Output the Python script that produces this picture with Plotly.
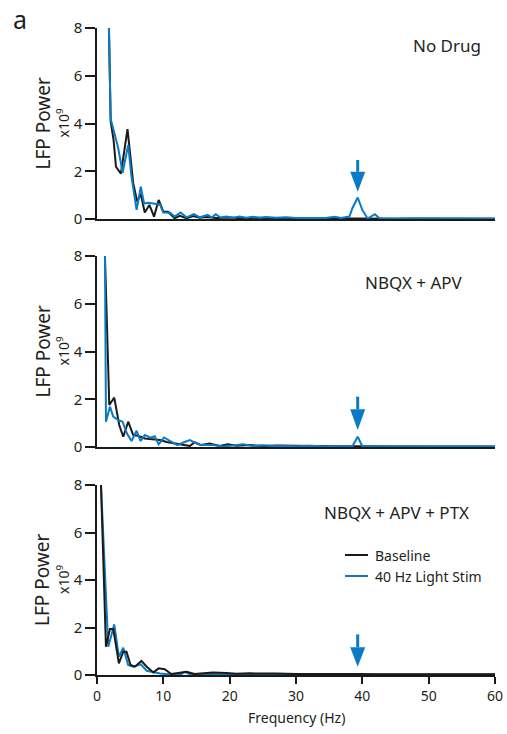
import plotly.graph_objects as go

# ---------------- data ----------------
p1_base_f = [1.8, 2.06, 2.5, 2.86, 3.6, 4.6, 5.46, 6.06, 6.6, 7.2, 7.9, 8.6, 9.3, 10.0, 10.7, 11.7, 12.5, 13.5, 14.5, 15.5, 16.5, 18, 20, 22, 24, 26, 28, 30, 33, 36, 39, 42, 45, 48, 51, 54, 57, 60]
p1_base_v = [8.0, 4.1, 3.3, 2.19, 1.9, 3.76, 1.5, 0.73, 1.05, 0.27, 0.59, 0.1, 0.8, 0.31, 0.3, 0.03, 0.13, 0.03, 0.12, 0.05, 0.08, 0.04, 0.06, 0.03, 0.05, 0.03, 0.04, 0.02, 0.03, 0.02, 0.02, 0.02, 0.01, 0.02, 0.01, 0.01, 0.01, 0.01]
p1_stim_f = [1.8, 2.06, 3.2, 3.86, 4.7, 5.2, 5.97, 6.6, 7.1, 7.7, 9.0, 9.5, 10.0, 11.0, 11.7, 12.6, 13.5, 14.6, 15.5, 16.7, 17.3, 17.9, 18.6, 19.5, 20.5, 21.5, 22.5, 23.5, 24.5, 25.5, 27, 28.5, 30, 31.5, 33, 34.5, 35.8, 36.8, 38.05, 38.5, 39.3, 40.0, 40.8, 41.9, 42.6, 45, 48, 51, 54, 57, 60]
p1_stim_v = [8.0, 4.2, 2.96, 1.94, 3.1, 1.77, 0.38, 1.35, 0.65, 0.68, 0.63, 0.6, 0.27, 0.26, 0.1, 0.27, 0.07, 0.2, 0.07, 0.17, 0.06, 0.2, 0.06, 0.1, 0.05, 0.1, 0.05, 0.09, 0.05, 0.08, 0.05, 0.07, 0.04, 0.05, 0.04, 0.04, 0.09, 0.04, 0.1, 0.45, 0.9, 0.38, 0.02, 0.2, 0.02, 0.02, 0.02, 0.02, 0.02, 0.02, 0.02]

p2_base_f = [1.2, 1.85, 2.6, 3.35, 3.96, 4.7, 5.46, 6.2, 7.2, 8.2, 9.5, 10.5, 11.7, 13, 14, 14.7, 15.7, 17, 18.5, 19.7, 21, 23, 25, 27, 30, 33, 36, 39, 42, 45, 48, 51, 54, 57, 60]
p2_base_v = [8.0, 1.76, 2.07, 0.92, 0.43, 1.06, 0.5, 0.47, 0.36, 0.32, 0.29, 0.21, 0.15, 0.08, 0.04, 0.2, 0.08, 0.15, 0.04, 0.11, 0.05, 0.08, 0.04, 0.06, 0.04, 0.03, 0.03, 0.03, 0.02, 0.03, 0.02, 0.02, 0.02, 0.02, 0.02]
p2_stim_f = [1.2, 1.35, 1.95, 2.45, 3.2, 3.86, 4.5, 5.2, 5.97, 6.57, 7.2, 8.07, 8.7, 9.3, 10.1, 11.0, 12.1, 13.2, 14.0, 15.0, 15.7, 17.5, 19, 20.5, 22, 23.5, 25, 26.5, 28, 30, 32, 34, 36, 37.5, 38.5, 39.3, 40.0, 41, 43, 46, 49, 52, 55, 58, 60]
p2_stim_v = [8.0, 1.06, 1.69, 1.27, 1.13, 1.06, 0.57, 0.25, 0.68, 0.25, 0.5, 0.39, 0.45, 0.11, 0.4, 0.25, 0.08, 0.21, 0.29, 0.15, 0.08, 0.08, 0.02, 0.06, 0.12, 0.04, 0.07, 0.04, 0.05, 0.03, 0.05, 0.03, 0.04, 0.03, 0.03, 0.43, 0.03, 0.02, 0.03, 0.02, 0.02, 0.02, 0.02, 0.02, 0.02]

p3_base_f = [0.6, 1.35, 1.95, 2.45, 3.3, 3.96, 4.45, 5.06, 5.7, 6.7, 7.5, 8.5, 9.3, 10.2, 11.2, 12.5, 13.5, 14.7, 16, 17.5, 19.5, 21, 23, 25, 27, 30, 33, 36, 39, 42, 45, 48, 51, 54, 57, 60]
p3_base_v = [8.0, 1.19, 1.94, 1.94, 0.49, 0.98, 0.98, 0.42, 0.35, 0.59, 0.35, 0.11, 0.28, 0.24, 0.04, 0.08, 0.14, 0.04, 0.06, 0.11, 0.08, 0.05, 0.07, 0.05, 0.06, 0.04, 0.05, 0.04, 0.04, 0.03, 0.04, 0.03, 0.03, 0.03, 0.03, 0.03]
p3_stim_f = [0.6, 1.7, 2.6, 3.3, 3.96, 4.7, 5.46, 6.6, 7.5, 8.7, 9.5, 11, 12.7, 13.2, 14, 16, 18, 20, 22, 25, 28, 31, 34, 37, 40, 43, 46, 49, 52, 55, 58, 60]
p3_stim_v = [8.0, 1.19, 2.13, 0.77, 1.15, 0.42, 0.35, 0.45, 0.18, 0.1, 0.06, 0.02, 0.04, 0.13, 0.03, 0.03, 0.02, 0.03, 0.02, 0.02, 0.02, 0.02, 0.02, 0.02, 0.02, 0.02, 0.02, 0.02, 0.02, 0.02, 0.02, 0.02]

panel_titles = ["No Drug", "NBQX + APV", "NBQX + APV + PTX"]
y_ticks = [0, 2, 4, 6, 8]
x_ticks = [0, 10, 20, 30, 40, 50, 60]
stim_freq = 39.3
# arrow (shaft top, head top, tip) in data units per panel
arrows = [(2.47, 1.98, 1.14), (2.11, 1.58, 0.71), (1.71, 1.17, 0.35)]

BLACK = "#1a1a1a"
BLUE = "#0a7ac4"
TXT = "#231f20"
FONT = "Noto Sans"

W, H = 507, 734
PL, PR, PT, PB = 97, 495, 28, 675   # plot area in pixels
def px(x):
    return (x - PL) / (PR - PL)
def py(y):
    return (PB - y) / (PB - PT)

# panel vertical pixel extents (top=8, bottom=0)
panels_px = [(28, 219), (256, 447), (485, 675)]

fig = go.Figure()

series = [
    (p1_base_f, p1_base_v, p1_stim_f, p1_stim_v, False),
    (p2_base_f, p2_base_v, p2_stim_f, p2_stim_v, False),
    (p3_base_f, p3_base_v, p3_stim_f, p3_stim_v, True),
]

for i, (bf, bv, sf, sv, base_on_top) in enumerate(series):
    ax = "" if i == 0 else str(i + 1)
    xa, ya = "x" + ax, "y" + ax
    tb = go.Scatter(x=bf, y=bv, mode="lines", line=dict(color=BLACK, width=2),
                    xaxis=xa, yaxis=ya, showlegend=False, name="Baseline")
    ts = go.Scatter(x=sf, y=sv, mode="lines", line=dict(color=BLUE, width=2),
                    xaxis=xa, yaxis=ya, showlegend=False, name="40 Hz Light Stim")
    if base_on_top:
        fig.add_trace(ts); fig.add_trace(tb)
    else:
        fig.add_trace(tb); fig.add_trace(ts)

layout = dict(width=W, height=H,
              margin=dict(l=PL, r=W - PR, t=PT, b=H - PB, autoexpand=False),
              plot_bgcolor="white", paper_bgcolor="white",
              font=dict(family=FONT, color=TXT, size=14), showlegend=False)

shapes = []
annotations = []
for i, (top, bot) in enumerate(panels_px):
    ax = "" if i == 0 else str(i + 1)
    last = (i == 2)
    layout["xaxis" + ax] = dict(domain=[0, 1], range=[0, 60], anchor="y" + ax,
                                automargin=False,
                                showline=True, linecolor=BLACK, linewidth=2,
                                showgrid=False, zeroline=False,
                                ticks="outside" if last else "", ticklen=7, tickwidth=1.5,
                                tickcolor=BLACK,
                                tickvals=x_ticks if last else [],
                                showticklabels=last,
                                tickfont=dict(size=14, color=TXT))
    layout["yaxis" + ax] = dict(domain=[py(bot), py(top)], range=[0, 8], anchor="x" + ax,
                                automargin=False,
                                showline=True, linecolor=BLACK, linewidth=1.5,
                                showgrid=False, zeroline=False,
                                ticks="outside", ticklen=10, tickwidth=1.5, tickcolor=BLACK,
                                tickvals=y_ticks, tickfont=dict(size=15, color=TXT))
    cy = (top + bot) / 2
    annotations.append(dict(text="LFP Power", x=px(42), y=py(cy), xref="paper", yref="paper",
                            textangle=-90, showarrow=False, font=dict(size=19, color=TXT),
                            xanchor="center", yanchor="middle"))
    annotations.append(dict(text="x10<sup>9</sup>", x=px(63), y=py(cy), xref="paper", yref="paper",
                            textangle=-90, showarrow=False, font=dict(size=14, color=TXT),
                            xanchor="center", yanchor="middle"))
    # arrow marking stimulation frequency
    s_top, h_top, tip = arrows[i]
    xr, yr = "x" + ax, "y" + ax
    shapes.append(dict(type="line", xref=xr, yref=yr, x0=stim_freq, x1=stim_freq,
                       y0=s_top, y1=h_top, line=dict(color=BLUE, width=3)))
    hw = 1.13
    shapes.append(dict(type="path", xref=xr, yref=yr,
                       path=f"M {stim_freq-hw},{h_top} L {stim_freq+hw},{h_top} L {stim_freq},{tip} Z",
                       fillcolor=BLUE, line=dict(color=BLUE, width=0)))

annotations.append(dict(text="Frequency (Hz)", x=px(296), y=py(717), xref="paper", yref="paper",
                        showarrow=False, font=dict(size=14, color=TXT),
                        xanchor="center", yanchor="middle"))

# panel titles
title_pos = [(447, 45), (414, 282), (396, 512)]
for t, (x, y) in zip(panel_titles, title_pos):
    annotations.append(dict(text=t, x=px(x), y=py(y), xref="paper", yref="paper",
                            showarrow=False, font=dict(size=17, color=TXT),
                            xanchor="center", yanchor="middle"))

# legend (manual)
legend_items = [("Baseline", BLACK, 555), ("40 Hz Light Stim", BLUE, 576)]
for name, col, y in legend_items:
    shapes.append(dict(type="line", xref="paper", yref="paper", x0=px(345), x1=px(368),
                       y0=py(y), y1=py(y), line=dict(color=col, width=2)))
    annotations.append(dict(text=name, x=px(373), y=py(y), xref="paper", yref="paper",
                            showarrow=False, font=dict(size=14, color=TXT),
                            xanchor="left", yanchor="middle"))

annotations.append(dict(text="a", x=px(20), y=py(19), xref="paper", yref="paper",
                        showarrow=False, font=dict(size=25, color=TXT),
                        xanchor="center", yanchor="middle"))

layout["shapes"] = shapes
layout["annotations"] = annotations
fig.update_layout(**layout)
fig.write_html("out.html", config={"displayModeBar": False},
               post_script="document.body.style.margin='0px';")
